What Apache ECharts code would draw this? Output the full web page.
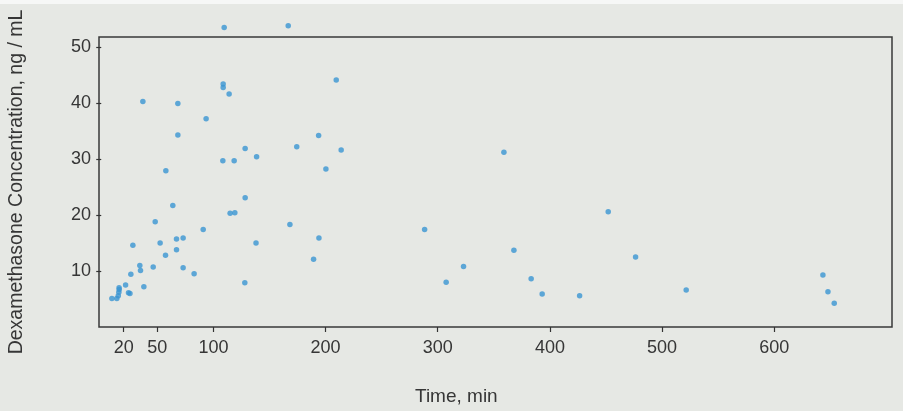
<!DOCTYPE html>
<html>
<head>
<meta charset="utf-8">
<script src="https://cdn.jsdelivr.net/npm/echarts@6/dist/echarts.min.js"></script>
<style>
  html, body { margin: 0; padding: 0; background: #e6e8e4; }
  #chart { width: 903px; height: 411px; }
</style>
</head>
<body>
<div id="chart"></div>
<script>
// Plasma dexamethasone concentration against time after dosing
const timeMin = [
  9.5, 13.9, 15.2, 15.7, 16.0, 15.9, 21.7, 24.3, 25.6, 26.4,
  28.2, 34.4, 35.0, 38.0, 37.1, 46.3, 48.1, 52.5, 57.3, 57.6,
  63.8, 67.1, 67.1, 68.3, 68.3, 73.0, 73.0, 82.8, 90.9, 93.5,
  108.4, 108.7, 108.7, 109.6, 114.0, 114.9, 118.5, 119.1, 128.3, 128.3,
  128.0, 138.5, 138.0, 166.7, 168.2, 174.3, 189.3, 193.8, 194.1, 200.3,
  209.5, 213.9, 288.3, 307.5, 323.0, 359.0, 367.9, 383.3, 393.1, 426.5,
  452.0, 476.4, 521.5, 643.4, 647.9, 653.5
];
const concentration = [
  5.1, 5.1, 5.6, 6.2, 6.7, 7.0, 7.5, 6.1, 6.0, 9.4,
  14.6, 11.0, 10.1, 7.2, 40.3, 10.7, 18.8, 15.0, 12.8, 27.9,
  21.7, 15.7, 13.8, 39.9, 34.3, 15.9, 10.6, 9.5, 17.4, 37.2,
  29.7, 43.4, 42.8, 53.5, 41.6, 20.3, 29.7, 20.4, 31.9, 23.1,
  7.9, 30.4, 15.0, 53.8, 18.3, 32.2, 12.1, 34.2, 15.9, 28.2,
  44.1, 31.6, 17.4, 8.0, 10.8, 31.2, 13.7, 8.6, 5.9, 5.6,
  20.6, 12.5, 6.6, 9.3, 6.3, 4.25
];
const xTicks = [20, 50, 100, 200, 300, 400, 500, 600];
const yTicks = [10, 20, 30, 40, 50];

const points = timeMin.map((t, i) => [t, concentration[i]]);

const ink = '#363636';
const font = '"Liberation Sans", Arial, Helvetica, sans-serif';

const chart = echarts.init(document.getElementById('chart'));
chart.setOption({
  backgroundColor: '#e6e8e4',
  animation: false,
  graphic: [
    { type: 'rect', left: 0, top: 0, shape: { width: 903, height: 4 }, style: { fill: '#f6f7f6' }, silent: true },
    {
      type: 'text', left: 415, top: 387,
      style: { text: 'Time, min', font: '19px ' + font, fill: ink }
    }
  ],
  // the frame comes from the grid border; axes only add ticks and labels
  grid: {
    left: 99, right: 11, top: 37, bottom: 84,
    show: true, borderColor: '#383838', borderWidth: 1.5,
    backgroundColor: 'transparent',
    outerBoundsMode: 'none'
  },
  xAxis: {
    type: 'value', min: -2, max: 705,
    splitLine: { show: false },
    axisLine: { show: false },
    axisTick: { show: true, customValues: xTicks, length: 5, lineStyle: { color: '#333', width: 1.2 } },
    axisLabel: { customValues: xTicks, margin: 12, fontSize: 18, fontFamily: font, color: ink }
  },
  yAxis: {
    type: 'value', min: 0, max: 51.8,
    name: 'Dexamethasone Concentration, ng / mL',
    nameLocation: 'middle', nameGap: 72, nameRotate: 90,
    nameTextStyle: { fontSize: 19.5, fontFamily: font, color: ink },
    splitLine: { show: false },
    axisLine: { show: false },
    axisTick: { show: true, customValues: yTicks, length: 5, lineStyle: { color: '#333', width: 1.2 } },
    axisLabel: { customValues: yTicks, margin: 8, fontSize: 18, fontFamily: font, color: ink }
  },
  series: [{
    type: 'scatter',
    data: points,
    symbolSize: 5.5,
    clip: false,
    itemStyle: { color: '#3a95d2' }
  }]
});
</script>
</body>
</html>
